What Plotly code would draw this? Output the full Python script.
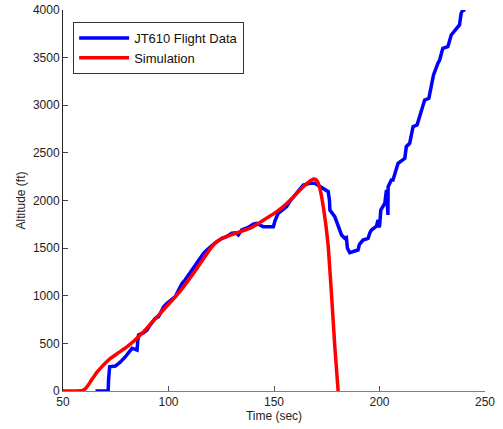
import plotly.graph_objects as go

flight_t = [65.4, 71.4, 71.6, 72.1, 74.8, 77.0, 79.6, 81.0, 82.7, 84.0, 85.1, 85.4, 85.8, 88.0, 89.8, 91.5,
            93.7, 95.3, 96.5, 97.7, 99.3, 101.5, 103.2, 104.8, 106.4, 108.0, 109.5, 111.5, 113.5, 115.0,
            116.6, 118.2, 119.7, 121.3, 122.9, 125.3, 127.5, 130.0, 132.0, 133.1, 134.7, 137.5, 140.2,
            141.8, 143.5, 144.9, 149.7, 150.5, 152.0, 154.0, 156.0, 157.5, 159.1, 161.5, 163.9, 167.0,
            169.4, 171.7, 174.1, 175.7, 176.3, 176.5, 178.8, 180.4, 182.0, 183.6, 184.3, 184.8, 185.9,
            189.8, 190.5, 192.2, 194.6, 195.4, 196.2, 198.6, 199.3, 199.8, 200.1, 200.6, 202.5, 203.3,
            203.9, 204.0, 204.1, 205.6, 206.4, 207.5, 208.8, 212.0, 212.7, 214.3, 215.9, 217.8, 219.8,
            221.4, 223.4, 224.6, 225.6, 227.7, 228.5, 230.0, 232.4, 234.0, 236.0, 237.9, 238.7, 239.5,
            240.8]
flight_alt = [0, 0, 120, 255, 262, 300, 360, 400, 448, 440, 430, 520, 588, 610, 640, 700,
              763, 780, 830, 885, 920, 960, 990, 1060, 1130, 1170, 1218, 1290, 1357, 1400,
              1445, 1480, 1515, 1540, 1568, 1603, 1620, 1656, 1660, 1638, 1690, 1715, 1753,
              1760, 1740, 1725, 1725, 1790, 1865, 1900, 1935, 1990, 2040, 2100, 2163, 2180,
              2180, 2145, 2110, 2093, 2000, 1900, 1830, 1725, 1638, 1603, 1610, 1500, 1452,
              1480, 1540, 1585, 1603, 1660, 1690, 1732, 1795, 1720, 1743, 1900, 1970, 2110,
              1848, 1848, 2145, 2215, 2215, 2300, 2390, 2443, 2565, 2600, 2775, 2793, 2932,
              3055, 3073, 3195, 3318, 3441, 3475, 3598, 3615, 3738, 3790, 3843, 3966, 4000,
              4000]

sim_t = [50.0, 55.0, 58.5, 59.5, 60.5, 61.4, 62.5, 63.5, 64.6, 66.0, 67.7, 70.0, 72.5, 76.5, 80.4,
         88.2, 96.1, 104.0, 111.8, 116.0, 119.7, 122.0, 124.5, 128.0, 133.9, 138.7, 143.4, 146.5,
         150.5, 154.4, 158.5, 162.3, 165.0, 166.8, 168.0, 168.9, 169.8, 170.6, 171.3, 172.0, 172.8,
         173.6, 174.6, 175.7, 177.3, 178.8, 180.4]
sim_alt = [0, 0, 2, 8, 22, 45, 80, 115, 150, 195, 238, 292, 343, 405, 465,
           623, 815, 1008, 1235, 1370, 1490, 1550, 1590, 1625, 1672, 1710, 1770, 1815,
           1870, 1935, 2020, 2110, 2165, 2200, 2218, 2225, 2220, 2200, 2160, 2100, 2010,
           1900, 1740, 1520, 1000, 470, 0]

x_ticks = [50, 100, 150, 200, 250]
y_ticks = [0, 500, 1000, 1500, 2000, 2500, 3000, 3500, 4000]

fig = go.Figure()
fig.add_trace(go.Scatter(x=flight_t, y=flight_alt, mode="lines", name="JT610 Flight Data",
                         line=dict(color="#0000ff", width=3.5)))
fig.add_trace(go.Scatter(x=sim_t, y=sim_alt, mode="lines", name="Simulation",
                         line=dict(color="#ff0000", width=3.5, shape="spline", smoothing=0.3)))

axis_common = dict(showgrid=False, zeroline=False, showline=True, linewidth=1,
                   ticks="inside", ticklen=5, mirror=False, automargin=False,
                   tickfont=dict(family="Liberation Sans, Arial, sans-serif", size=12, color="#222222"))

fig.update_layout(
    width=503, height=429,
    margin=dict(l=62.5, r=17.5, t=10, b=38),
    paper_bgcolor="white", plot_bgcolor="white",
    font=dict(family="Liberation Sans, Arial, sans-serif", size=12, color="#222222"),
    xaxis=dict(range=[50, 250], tickvals=x_ticks, linecolor="#808080", tickcolor="#555555",
               title=dict(text="Time (sec)", standoff=2, font=dict(size=12)), **axis_common),
    yaxis=dict(range=[0, 4000], tickvals=y_ticks, linecolor="#262626", tickcolor="#444444",
               title=dict(text="Altitude (ft)", standoff=4, font=dict(size=12)), **axis_common),
    legend=dict(x=0.024, y=0.9685, xanchor="left", yanchor="top", bordercolor="#333333",
                borderwidth=1, bgcolor="white", font=dict(size=13, color="#111111"),
                tracegroupgap=0, itemwidth=50),
    showlegend=True,
)

fig.write_html("out.html", config={"displayModeBar": False},
               post_script="document.body.style.margin='0';document.body.style.padding='0';")
